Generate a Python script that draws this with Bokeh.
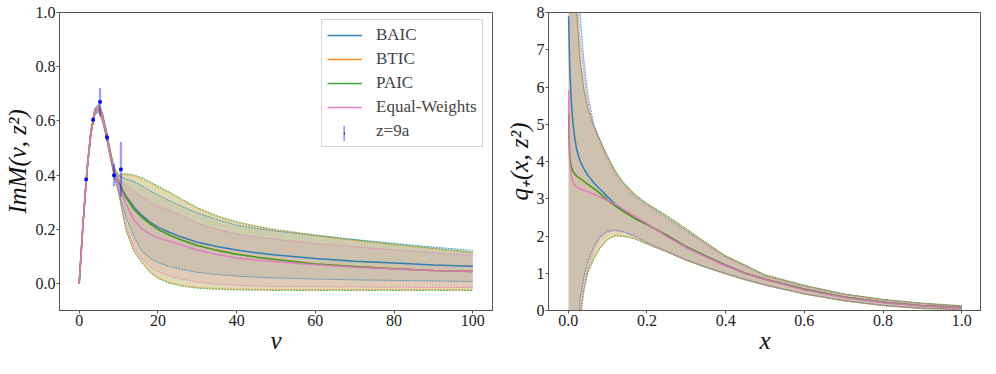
import numpy as np
from bokeh.plotting import figure
from bokeh.layouts import row
from bokeh.models import Legend, LegendItem, FixedTicker, Range1d, NumeralTickFormatter
from bokeh.embed import file_html
from bokeh.resources import INLINE

# ---------------- data: left panel ----------------
NU = [0, 1, 2, 3, 4, 5, 6, 7, 8, 9, 10, 11, 12, 14, 16, 18, 20, 23, 26, 30, 35, 40, 45, 50, 60, 70, 80, 90, 100]

BAIC_M = [0, 0.225, 0.42, 0.56, 0.635, 0.648, 0.61, 0.545, 0.47, 0.405, 0.375, 0.345, 0.32, 0.28, 0.25, 0.226, 0.208, 0.188, 0.171, 0.152, 0.136, 0.123, 0.113, 0.105, 0.092, 0.082, 0.075, 0.068, 0.063]
BTIC_M = [0, 0.225, 0.42, 0.56, 0.635, 0.648, 0.61, 0.545, 0.47, 0.405, 0.372, 0.342, 0.315, 0.272, 0.243, 0.22, 0.2, 0.178, 0.16, 0.14, 0.122, 0.108, 0.097, 0.088, 0.072, 0.062, 0.054, 0.048, 0.044]
PAIC_M = [0, 0.225, 0.42, 0.56, 0.635, 0.648, 0.61, 0.545, 0.47, 0.405, 0.372, 0.342, 0.315, 0.272, 0.243, 0.22, 0.2, 0.178, 0.16, 0.14, 0.122, 0.108, 0.097, 0.088, 0.072, 0.062, 0.054, 0.048, 0.044]
EW_M = [0, 0.225, 0.42, 0.56, 0.635, 0.648, 0.61, 0.545, 0.47, 0.405, 0.368, 0.33, 0.29, 0.232, 0.2, 0.182, 0.168, 0.156, 0.142, 0.123, 0.107, 0.094, 0.086, 0.08, 0.069, 0.06, 0.053, 0.048, 0.044]

BAIC_M_UP = [0, 0.231, 0.428, 0.57, 0.646, 0.66, 0.622, 0.558, 0.483, 0.42, 0.395, 0.392, 0.385, 0.375, 0.36, 0.342, 0.326, 0.305, 0.285, 0.26, 0.236, 0.215, 0.203, 0.193, 0.177, 0.162, 0.148, 0.134, 0.122]
BTIC_M_UP = [0, 0.231, 0.429, 0.57, 0.646, 0.66, 0.623, 0.558, 0.483, 0.422, 0.397, 0.401, 0.401, 0.396, 0.386, 0.371, 0.356, 0.333, 0.308, 0.277, 0.247, 0.225, 0.209, 0.196, 0.176, 0.158, 0.142, 0.128, 0.113]
PAIC_M_UP = [0, 0.232, 0.43, 0.572, 0.648, 0.662, 0.625, 0.56, 0.485, 0.425, 0.4, 0.405, 0.405, 0.4, 0.39, 0.375, 0.36, 0.337, 0.312, 0.28, 0.25, 0.228, 0.212, 0.199, 0.179, 0.161, 0.145, 0.13, 0.115]
EW_M_UP = [0, 0.23, 0.427, 0.568, 0.644, 0.657, 0.62, 0.555, 0.48, 0.418, 0.385, 0.372, 0.36, 0.34, 0.32, 0.3, 0.285, 0.268, 0.25, 0.222, 0.2, 0.182, 0.172, 0.163, 0.147, 0.135, 0.124, 0.113, 0.103]

BAIC_M_LO = [0, 0.219, 0.412, 0.55, 0.624, 0.636, 0.598, 0.532, 0.457, 0.393, 0.345, 0.29, 0.24, 0.17, 0.118, 0.093, 0.077, 0.062, 0.052, 0.041, 0.033, 0.027, 0.023, 0.02, 0.016, 0.013, 0.011, 0.009, 0.007]
BTIC_M_LO = [0, 0.219, 0.411, 0.549, 0.623, 0.635, 0.596, 0.531, 0.456, 0.391, 0.337, 0.263, 0.193, 0.118, 0.078, 0.043, 0.021, 0.003, -0.007, -0.015, -0.019, -0.021, -0.022, -0.023, -0.023, -0.023, -0.023, -0.023, -0.023]
PAIC_M_LO = [0, 0.218, 0.41, 0.548, 0.622, 0.634, 0.595, 0.53, 0.455, 0.39, 0.335, 0.26, 0.19, 0.115, 0.075, 0.04, 0.018, 0.0, -0.01, -0.018, -0.022, -0.024, -0.025, -0.026, -0.026, -0.026, -0.026, -0.026, -0.026]
EW_M_LO = [0, 0.22, 0.413, 0.551, 0.625, 0.638, 0.6, 0.534, 0.459, 0.395, 0.338, 0.272, 0.207, 0.132, 0.09, 0.062, 0.044, 0.027, 0.016, 0.005, -0.003, -0.007, -0.009, -0.011, -0.012, -0.013, -0.014, -0.015, -0.015]

# lattice data z=9a
Z_NU = [1.77, 3.53, 5.30, 7.07, 8.84, 10.60]
Z_VAL = [0.384, 0.604, 0.670, 0.539, 0.399, 0.421]
Z_ERR = [0.005, 0.008, 0.05, 0.012, 0.04, 0.10]

# ---------------- data: right panel ----------------
XQ = [0.001, 0.004, 0.008, 0.012, 0.017, 0.022, 0.03, 0.04, 0.05, 0.065, 0.08, 0.1, 0.12, 0.14, 0.17, 0.2, 0.25, 0.3, 0.35, 0.4, 0.45, 0.5, 0.6, 0.7, 0.8, 0.9, 1.0]

BAIC_Q = [7.9, 6.5, 5.6, 5.05, 4.6, 4.3, 4.02, 3.8, 3.63, 3.43, 3.27, 3.05, 2.85, 2.68, 2.47, 2.31, 2.02, 1.71, 1.46, 1.22, 1.0, 0.84, 0.57, 0.36, 0.22, 0.13, 0.08]
BTIC_Q = [5.2, 4.05, 3.83, 3.74, 3.65, 3.6, 3.54, 3.46, 3.38, 3.27, 3.14, 2.95, 2.8, 2.66, 2.47, 2.31, 2.02, 1.71, 1.46, 1.21, 1.0, 0.84, 0.57, 0.36, 0.22, 0.13, 0.08]
PAIC_Q = [5.3, 4.1, 3.85, 3.75, 3.66, 3.61, 3.55, 3.47, 3.39, 3.28, 3.15, 2.96, 2.8, 2.66, 2.47, 2.31, 2.02, 1.71, 1.46, 1.21, 1.0, 0.84, 0.57, 0.36, 0.22, 0.13, 0.08]
EW_Q = [5.9, 3.95, 3.6, 3.45, 3.36, 3.31, 3.27, 3.23, 3.19, 3.12, 3.05, 2.95, 2.85, 2.72, 2.53, 2.34, 1.99, 1.69, 1.43, 1.2, 1.0, 0.83, 0.55, 0.35, 0.21, 0.12, 0.07]

BAIC_Q_UP = [18, 15, 13, 11.5, 10.2, 9.2, 8.0, 6.7, 5.8, 5.0, 4.6, 4.1, 3.7, 3.42, 3.08, 2.85, 2.5, 2.15, 1.8, 1.45, 1.21, 0.94, 0.66, 0.44, 0.29, 0.19, 0.12]
BTIC_Q_UP = [13.8, 11.8, 10.4, 9.5, 8.6, 7.9, 6.7, 5.9, 5.4, 4.92, 4.57, 4.12, 3.72, 3.43, 3.1, 2.86, 2.54, 2.18, 1.81, 1.46, 1.21, 0.95, 0.67, 0.44, 0.29, 0.19, 0.12]
PAIC_Q_UP = [14, 12, 10.5, 9.6, 8.7, 8.0, 6.75, 5.95, 5.45, 4.95, 4.6, 4.15, 3.75, 3.45, 3.12, 2.88, 2.56, 2.2, 1.83, 1.47, 1.22, 0.96, 0.68, 0.45, 0.3, 0.2, 0.13]
EW_Q_UP = [16, 13.5, 11.5, 10.3, 9.2, 8.4, 7.3, 6.4, 5.6, 4.9, 4.5, 4.0, 3.62, 3.35, 3.02, 2.8, 2.45, 2.1, 1.76, 1.42, 1.18, 0.91, 0.64, 0.43, 0.28, 0.18, 0.11]

BAIC_Q_LO = [-12, -9, -6, -4, -2.5, -1.2, 0.3, 0.9, 1.33, 1.72, 1.98, 2.13, 2.16, 2.12, 2.0, 1.83, 1.6, 1.37, 1.17, 1.0, 0.84, 0.69, 0.45, 0.27, 0.14, 0.06, 0.04]
BTIC_Q_LO = [-13.5, -9.7, -6.8, -4.6, -2.9, -1.5, -0.1, 0.6, 1.05, 1.4, 1.68, 1.92, 2.02, 2.0, 1.93, 1.79, 1.58, 1.35, 1.16, 0.98, 0.82, 0.68, 0.44, 0.26, 0.13, 0.05, 0.03]
PAIC_Q_LO = [-14, -10, -7, -4.8, -3, -1.6, -0.2, 0.55, 1.0, 1.38, 1.65, 1.9, 2.0, 1.99, 1.92, 1.78, 1.57, 1.34, 1.15, 0.98, 0.82, 0.68, 0.44, 0.26, 0.13, 0.05, 0.03]
EW_Q_LO = [-16, -12, -8, -5.5, -3.5, -2, -0.4, 0.5, 1.1, 1.6, 1.92, 2.1, 2.14, 2.1, 1.98, 1.81, 1.58, 1.35, 1.16, 0.99, 0.83, 0.68, 0.44, 0.26, 0.13, 0.05, 0.03]

NAMES = ["BAIC", "BTIC", "PAIC", "Equal-Weights"]
DATA_NAME = "z=9a"
COLORS = ["#1f77b4", "#ff7f0e", "#2ca02c", "#e377c2"]
FILL_ALPHAS = [0.13, 0.18, 0.18, 0.13]
FILL_ORDER = [0, 2, 1, 3]

LEFT_X_TICKS = [0, 20, 40, 60, 80, 100]
LEFT_Y_TICKS = [0.0, 0.2, 0.4, 0.6, 0.8, 1.0]
RIGHT_X_TICKS = [0.0, 0.2, 0.4, 0.6, 0.8, 1.0]
RIGHT_Y_TICKS = [0, 1, 2, 3, 4, 5, 6, 7, 8]

FONT = "Liberation Serif"


def style(p):
    p.grid.visible = False
    p.outline_line_color = "#555555"
    p.outline_line_width = 1
    p.background_fill_color = "white"
    p.border_fill_color = "white"
    for ax in p.axis:
        ax.axis_line_color = "#555555"
        ax.major_tick_line_color = "#555555"
        ax.major_tick_out = 3
        ax.major_tick_in = 0
        ax.minor_tick_out = 0
        ax.minor_tick_in = 0
        ax.major_label_standoff = 1
        ax.major_label_text_font = FONT
        ax.major_label_text_font_size = "16px"
        ax.major_label_text_color = "#222222"
        ax.axis_label_text_font = FONT
        ax.axis_label_text_font_size = "25px"
        ax.axis_label_text_font_style = "italic"
        ax.axis_label_text_color = "#111111"
    p.xaxis.axis_label_standoff = -2
    p.yaxis.axis_label_standoff = 2


def bands(p, x, mids, ups, los):
    for i in FILL_ORDER:
        p.varea(x=x, y1=los[i], y2=ups[i], fill_color=COLORS[i], fill_alpha=FILL_ALPHAS[i])
    lines = []
    for i in range(4):
        c = COLORS[i]
        p.line(x, ups[i], line_color=c, line_width=1, line_dash="2 1", line_alpha=0.7)
        p.line(x, los[i], line_color=c, line_width=1, line_dash="2 1", line_alpha=0.7)
        lines.append(p.line(x, mids[i], line_color=c, line_width=1.5, line_alpha=0.9))
    return lines


# ---------------- left figure ----------------
p1 = figure(frame_width=433, frame_height=298, output_backend="svg", toolbar_location=None,
            x_range=Range1d(-5, 105), y_range=Range1d(-0.1, 1.0),
            min_border_left=55, min_border_right=10, min_border_top=12, min_border_bottom=46)
style(p1)
lines1 = bands(p1, NU, [BAIC_M, BTIC_M, PAIC_M, EW_M],
               [BAIC_M_UP, BTIC_M_UP, PAIC_M_UP, EW_M_UP],
               [BAIC_M_LO, BTIC_M_LO, PAIC_M_LO, EW_M_LO])

z_lo = [v - e for v, e in zip(Z_VAL, Z_ERR)]
z_hi = [v + e for v, e in zip(Z_VAL, Z_ERR)]
err_r = p1.vbar(x=Z_NU, bottom=z_lo, top=z_hi, width=0.4, fill_color="blue", fill_alpha=0.35,
                line_color="blue", line_alpha=0.35, line_width=0.6)
dot_r = p1.scatter(Z_NU, Z_VAL, marker="square", size=2.5, color="blue")
ghost = p1.scatter(Z_NU, Z_VAL, size=1, alpha=0)

p1.xaxis.ticker = FixedTicker(ticks=LEFT_X_TICKS)
p1.yaxis.ticker = FixedTicker(ticks=LEFT_Y_TICKS)
p1.yaxis.formatter = NumeralTickFormatter(format="0.0")
p1.xaxis.axis_label = "ν"
p1.yaxis.axis_label = "ImM(ν, z²)"

LEG_X, LEG_Y = 262, 163
common = dict(padding=5, spacing=4, glyph_height=18, label_height=18, label_standoff=14,
              label_text_font=FONT, label_text_font_size="17px")
items_a = [LegendItem(label=n, renderers=[r]) for n, r in zip(NAMES, lines1)]
items_a.append(LegendItem(label=DATA_NAME, renderers=[ghost]))
legend_a = Legend(items=items_a, location=(LEG_X, LEG_Y), glyph_width=35,
                  border_line_color="#cccccc", border_line_alpha=0.8,
                  background_fill_color="white", background_fill_alpha=0.8, **common)
# overlay legend that only draws the vertical error-bar glyph of the data entry
items_b = [LegendItem(label=" ", renderers=[ghost]) for _ in NAMES]
items_b.append(LegendItem(label=" ", renderers=[err_r, dot_r]))
legend_b = Legend(items=items_b, location=(LEG_X + 17, LEG_Y), glyph_width=2,
                  border_line_alpha=0, background_fill_alpha=0, label_text_alpha=0, **common)
p1.add_layout(legend_a)
p1.add_layout(legend_b)

# ---------------- right figure ----------------
p2 = figure(frame_width=433, frame_height=298, output_backend="svg", toolbar_location=None,
            x_range=Range1d(-0.05, 1.05), y_range=Range1d(0, 8),
            min_border_left=40, min_border_right=0, min_border_top=12, min_border_bottom=46)
style(p2)
p2.yaxis.axis_label_standoff = 1
bands(p2, XQ, [BAIC_Q, BTIC_Q, PAIC_Q, EW_Q],
      [BAIC_Q_UP, BTIC_Q_UP, PAIC_Q_UP, EW_Q_UP],
      [BAIC_Q_LO, BTIC_Q_LO, PAIC_Q_LO, EW_Q_LO])
p2.xaxis.ticker = FixedTicker(ticks=RIGHT_X_TICKS)
p2.yaxis.ticker = FixedTicker(ticks=RIGHT_Y_TICKS)
p2.xaxis.formatter = NumeralTickFormatter(format="0.0")
p2.xaxis.axis_label = "x"
p2.yaxis.axis_label = "q₊(x, z²)"

layout = row(p1, p2)
open("out.html", "w").write(file_html(layout, INLINE))
